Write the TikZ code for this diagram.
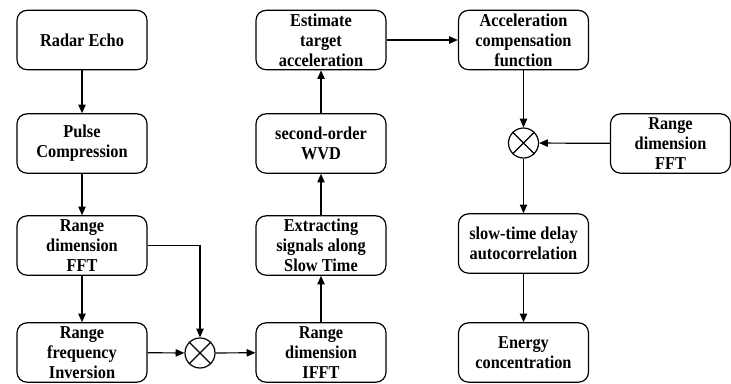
\documentclass[tikz,border=0pt]{standalone}
\usepackage{fontspec}
\setmainfont{Liberation Serif}[FakeStretch=0.9]
\usetikzlibrary{arrows.meta}
\begin{document}
\begin{tikzpicture}[x=0.75pt,y=-0.75pt,
  font=\fontsize{13.6}{15}\selectfont\bfseries,
  box/.style={draw,line width=0.9pt,rounded corners=7.5pt,minimum width=97.5pt,minimum height=44.5pt,align=center,inner sep=0pt},
  mult/.style={draw,line width=0.9pt,circle,minimum size=22.5pt,inner sep=0pt},
  conn/.style={line width=0.9pt,-{Triangle[length=6.5pt,width=5.5pt]}}]
\useasboundingbox (0,0) rectangle (731,383);
% column 1
\node[box] (echo) at (82,40) {Radar Echo};
\node[box] (pulse) at (82,143.5) {Pulse\\Compression};
\node[box] (fft) at (82,245.5) {Range\\dimension\\FFT};
\node[box] (inv) at (82,352.5) {Range\\frequency\\Inversion};
% column 2
\node[box] (est) at (321,40) {Estimate\\target\\acceleration};
\node[box] (wvd) at (321,143.5) {second-order\\WVD};
\node[box] (ext) at (321,245.5) {Extracting\\signals along\\Slow Time};
\node[box] (ifft) at (321,352.5) {Range\\dimension\\IFFT};
% column 3
\node[box] (acc) at (523.5,40) {Acceleration\\compensation\\function};
\node[box] (slow) at (523.5,243.5) {slow-time delay\\autocorrelation};
\node[box] (energy) at (523.5,352.5) {Energy\\concentration};
\node[box,minimum width=90pt] (rfft) at (670.5,143.5) {Range\\dimension\\FFT};
% multipliers
\node[mult] (m1) at (200,353) {};
\draw[line width=0.9pt] (m1.45) -- (m1.225) (m1.135) -- (m1.315);
\node[mult] (m2) at (523.5,143) {};
\draw[line width=0.9pt] (m2.45) -- (m2.225) (m2.135) -- (m2.315);
% connectors
\draw[conn] (echo) -- (pulse);
\draw[conn] (pulse) -- (fft);
\draw[conn] (fft) -- (inv);
\draw[conn] (fft.east) -| (m1.north);
\draw[conn] (inv) -- (m1);
\draw[conn] (m1) -- (ifft);
\draw[conn] (ifft) -- (ext);
\draw[conn] (ext) -- (wvd);
\draw[conn] (wvd) -- (est);
\draw[conn] (est) -- (acc);
\draw[conn] (acc) -- (m2);
\draw[conn] (rfft) -- (m2);
\draw[conn] (m2) -- (slow);
\draw[conn] (slow) -- (energy);
\end{tikzpicture}
\end{document}
